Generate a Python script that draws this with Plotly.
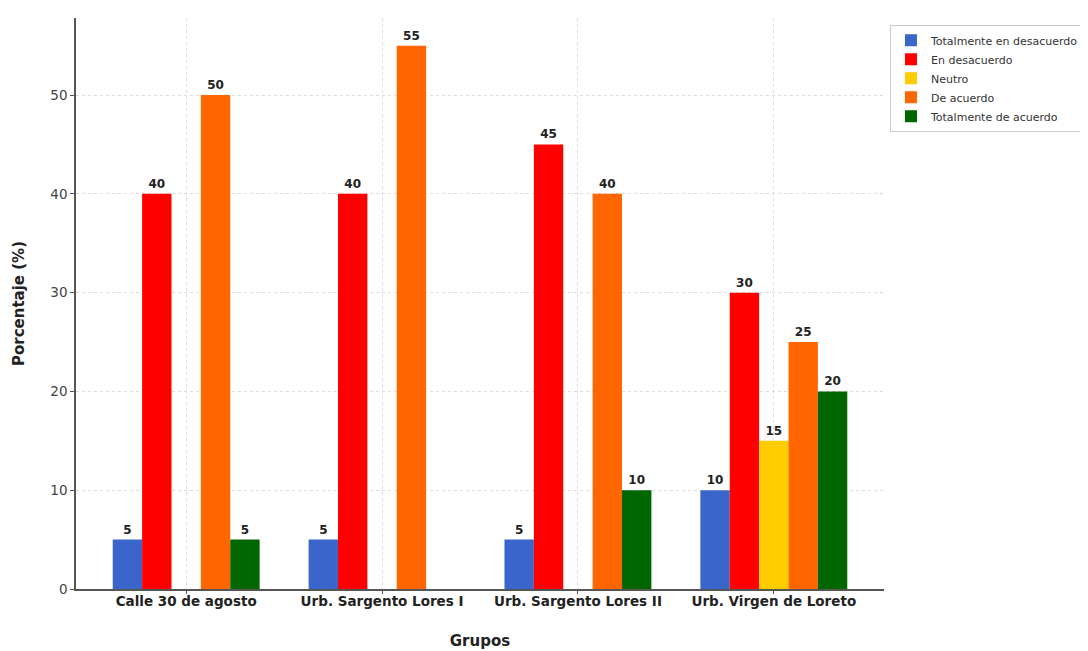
import plotly.graph_objects as go

groups = ["Calle 30 de agosto", "Urb. Sargento Lores I", "Urb. Sargento Lores II", "Urb. Virgen de Loreto"]
series_names = ["Totalmente en desacuerdo", "En desacuerdo", "Neutro", "De acuerdo", "Totalmente de acuerdo"]
totalmente_desacuerdo = [5, 5, 5, 10]
en_desacuerdo = [40, 40, 45, 30]
neutro = [0, 0, 0, 15]
de_acuerdo = [50, 55, 40, 25]
totalmente_acuerdo = [5, 0, 10, 20]
colors = ["#3A66CC", "#FF0000", "#FFCC00", "#FF6600", "#006600"]

all_series = [totalmente_desacuerdo, en_desacuerdo, neutro, de_acuerdo, totalmente_acuerdo]

fig = go.Figure()
for name, vals, col in zip(series_names, all_series, colors):
    fig.add_trace(go.Bar(
        x=groups, y=vals, name=name, marker=dict(color=col, line=dict(width=0)),
        text=[str(v) if v > 0 else "" for v in vals],
        textposition="outside", cliponaxis=False,
        textfont=dict(family="DejaVu Sans", size=12, color="#222222", weight="bold"),
    ))

# page body has an 8px margin, so the figure is sized/positioned to compensate
fig.update_layout(
    barmode="group", bargap=0.25, bargroupgap=0,
    width=1080, height=643,
    margin=dict(l=68, r=204, t=10, b=62, autoexpand=False),
    plot_bgcolor="white", paper_bgcolor="white",
    font=dict(family="DejaVu Sans", color="#333333"),
    legend=dict(x=1.0074, y=0.988, xanchor="left", yanchor="top",
                bordercolor="#cccccc", borderwidth=1,
                font=dict(size=11, color="#333333"), tracegroupgap=0),
)
fig.update_xaxes(
    range=[-0.5625, 3.5625], showline=True, linecolor="#555555", linewidth=1.5,
    showgrid=True, gridcolor="#dddddd", griddash="dot", gridwidth=1,
    ticks="outside", ticklen=3, tickcolor="#555555", automargin=False,
    ticklabelstandoff=-4,
    tickfont=dict(size=13.5, color="#222222", weight="bold"),
    title=dict(text="<b>Grupos</b>", font=dict(size=15, color="#222222"), standoff=28),
)
fig.update_yaxes(
    range=[0, 57.8], dtick=10, showline=True, linecolor="#555555", linewidth=1.5,
    showgrid=True, gridcolor="#dddddd", griddash="dot", gridwidth=1,
    ticks="outside", ticklen=4, tickcolor="#555555", zeroline=False, automargin=False,
    tickfont=dict(size=13.5, color="#444444"),
    title=dict(text="<b>Porcentaje (%)</b>", font=dict(size=15, color="#222222"), standoff=22),
)

fig.write_html("out.html")
